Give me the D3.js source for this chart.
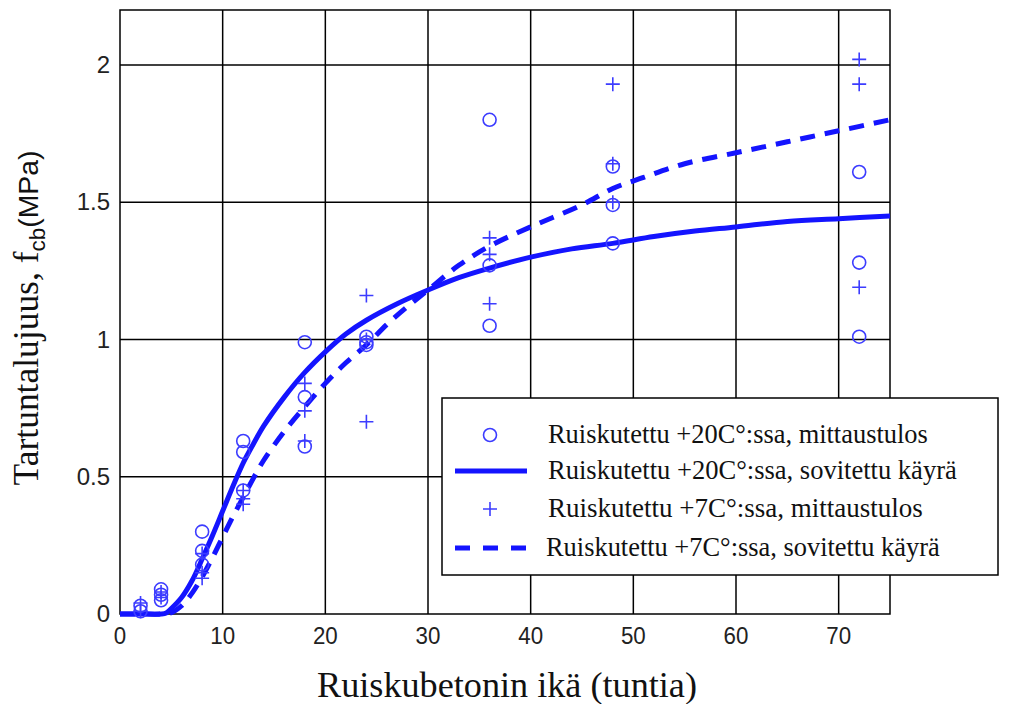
<!DOCTYPE html>
<html><head><meta charset="utf-8">
<script src="https://cdn.jsdelivr.net/npm/d3@7"></script>
<style>body{margin:0;background:#fff}svg{display:block}
.serif{font-family:"Liberation Serif","DejaVu Serif","Times New Roman",Times,serif}
.sans{font-family:"Liberation Sans",Arial,sans-serif}
</style>
</head><body>
<script>
// ---- data ----
const xTicks = [0,10,20,30,40,50,60,70];
const yTicks = [0,0.5,1,1.5,2];
const yTickLabels = ["0","0.5","1","1.5","2"];

const meas20x = [2,2,4,4,4,8,8,8,12,12,12,18,18,18,24,24,24,36,36,36,48,48,48,72,72,72];
const meas20y = [0.01,0.03,0.09,0.07,0.05,0.30,0.23,0.18,0.63,0.59,0.45,0.99,0.79,0.61,1.01,0.99,0.98,1.80,1.27,1.05,1.63,1.49,1.35,1.61,1.28,1.01];

const meas7x = [2,2,4,4,8,8,8,12,12,12,18,18,18,24,24,24,36,36,36,48,48,48,72,72,72];
const meas7y = [0.04,0.01,0.08,0.06,0.22,0.15,0.13,0.45,0.42,0.40,0.84,0.74,0.63,1.16,1.00,0.70,1.37,1.31,1.13,1.93,1.64,1.50,2.02,1.93,1.19];

const fit20x = [0,2,4,4.5,5,6,7,8,9,10,11,12,13,14,16,18,20,22,24,27,30,33,36,40,44,48,52,56,60,65,70,75];
const fit20y = [0,0,0,0.004,0.02,0.06,0.12,0.2,0.285,0.375,0.465,0.55,0.62,0.685,0.79,0.88,0.955,1.02,1.07,1.13,1.18,1.225,1.26,1.30,1.33,1.35,1.375,1.395,1.41,1.43,1.44,1.45];

const fit7x = [0,2,4,5,6,7,8,9,10,11,12,13,14,16,18,20,22,24,26,28,30,33,36,40,45,48,51,55,60,65,70,75];
const fit7y = [0,0,0,0.005,0.03,0.075,0.135,0.205,0.28,0.355,0.425,0.495,0.56,0.665,0.755,0.84,0.915,0.98,1.055,1.12,1.18,1.27,1.34,1.41,1.49,1.55,1.59,1.64,1.68,1.72,1.76,1.80];

const legendLabels = [
  "Ruiskutettu +20C°:ssa, mittaustulos",
  "Ruiskutettu +20C°:ssa, sovitettu käyrä",
  "Ruiskutettu +7C°:ssa, mittaustulos",
  "Ruiskutettu +7C°:ssa, sovitettu käyrä"
];

// ---- chart ----
const W = 1011, H = 704;
const L = 120, R = 890, T = 10, B = 614;
const blue = "#1414ff", mblue = "#3c3cff";

const svg = d3.select("body").append("svg").attr("width", W).attr("height", H);
const x = d3.scaleLinear().domain([0,75]).range([L,R]);
const y = d3.scaleLinear().domain([0,2.2]).range([B,T]);

function fitWidth(sel, target) {
  const n = sel.node();
  const w = n.getComputedTextLength();
  const fs = parseFloat(getComputedStyle(n).fontSize);
  sel.style("font-size", (fs * target / w) + "px");
}

// grid
const g = svg.append("g");
g.selectAll("line.gx").data(xTicks.slice(1)).enter().append("line")
  .attr("x1", d=>x(d)).attr("x2", d=>x(d)).attr("y1", T).attr("y2", B)
  .attr("stroke", "#000").attr("stroke-width", 1.5);
g.selectAll("line.gy").data(yTicks.slice(1)).enter().append("line")
  .attr("y1", d=>y(d)).attr("y2", d=>y(d)).attr("x1", L).attr("x2", R)
  .attr("stroke", "#000").attr("stroke-width", 1.5);
svg.append("rect").attr("x", L).attr("y", T).attr("width", R-L).attr("height", B-T)
  .attr("fill", "none").attr("stroke", "#000").attr("stroke-width", 1.5);

// axes
const xAxis = d3.axisBottom(x).tickValues(xTicks).tickSize(0).tickPadding(13);
const xa = svg.append("g").attr("transform", `translate(0,${B})`).call(xAxis);
xa.select(".domain").remove();
xa.attr("font-family", null).attr("font-size", null);
xa.selectAll("text").attr("class","sans").style("font-size", "24px").attr("fill", "#222");
xa.selectAll(".tick").attr("transform", d=>`translate(${x(d)},0) scale(0.93,1)`);

const yAxis = d3.axisLeft(y).tickValues(yTicks).tickFormat((d,i)=>yTickLabels[i]).tickSize(0).tickPadding(10);
const ya = svg.append("g").attr("transform", `translate(${L},0)`).call(yAxis);
ya.select(".domain").remove();
ya.attr("font-family", null).attr("font-size", null);
ya.selectAll("text").attr("class","sans").style("font-size", "24px").attr("fill", "#222");

// curves
const line = d3.line().x(d=>x(d[0])).y(d=>y(d[1])).curve(d3.curveCatmullRom.alpha(0.5));
svg.append("path").datum(fit20x.map((v,i)=>[v,fit20y[i]])).attr("d", line)
  .attr("fill","none").attr("stroke", blue).attr("stroke-width", 5);
svg.append("path").datum(fit7x.map((v,i)=>[v,fit7y[i]])).attr("d", line)
  .attr("fill","none").attr("stroke", blue).attr("stroke-width", 5).attr("stroke-dasharray", "15,10");

// markers
svg.append("g").selectAll("circle").data(meas20x.map((v,i)=>[v,meas20y[i]])).enter().append("circle")
  .attr("cx", d=>x(d[0])).attr("cy", d=>y(d[1])).attr("r", 6.5)
  .attr("fill","none").attr("stroke", mblue).attr("stroke-width", 1.6);
svg.append("g").selectAll("path").data(meas7x.map((v,i)=>[v,meas7y[i]])).enter().append("path")
  .attr("d", d=>{ const cx = x(d[0]), cy = y(d[1]); return `M${cx-7},${cy}H${cx+7}M${cx},${cy-7}V${cy+7}`; })
  .attr("stroke", mblue).attr("stroke-width", 1.6).attr("fill","none");

// legend
const lg = svg.append("g");
lg.append("rect").attr("x", 442).attr("y", 398).attr("width", 556).attr("height", 177)
  .attr("fill", "#fff").attr("stroke", "#000").attr("stroke-width", 1.5);
const rows = [435, 471, 509, 548];
lg.append("circle").attr("cx", 490).attr("cy", rows[0]).attr("r", 6.5)
  .attr("fill","none").attr("stroke", mblue).attr("stroke-width", 1.6);
lg.append("line").attr("x1", 455).attr("x2", 527).attr("y1", rows[1]).attr("y2", rows[1])
  .attr("stroke", blue).attr("stroke-width", 5);
lg.append("path").attr("d", `M483,${rows[2]}H497M490,${rows[2]-7}V${rows[2]+7}`)
  .attr("stroke", mblue).attr("stroke-width", 1.6);
lg.append("line").attr("x1", 455).attr("x2", 527).attr("y1", rows[3]).attr("y2", rows[3])
  .attr("stroke", blue).attr("stroke-width", 5).attr("stroke-dasharray", "15,13");
const legTargets = [380, 409, 375, 394];
lg.selectAll("text").data(legendLabels).enter().append("text")
  .attr("class", "serif")
  .attr("x", (d,i)=> i===3 ? 546 : 548).attr("y", (d,i)=>rows[i]+8)
  .style("font-size", "22px")
  .attr("fill", "#111").text(d=>d)
  .each(function(d,i){ fitWidth(d3.select(this), legTargets[i]); });

// axis titles
const xt = svg.append("text").attr("class","serif").attr("x", 507).attr("y", 697).attr("text-anchor","middle")
  .style("font-size", "30px").attr("fill", "#111").text("Ruiskubetonin ikä (tuntia)");
fitWidth(xt, 380);
const yt = svg.append("text").attr("class","serif").attr("transform", "translate(38,318) rotate(-90)").attr("text-anchor","middle")
  .style("font-size", "30px").attr("fill", "#111");
yt.append("tspan").text("Tartuntalujuus, f");
yt.append("tspan").attr("class","sans").attr("dy", 7).style("font-size", "19px").text("cb");
yt.append("tspan").attr("class","sans").attr("dy", -7).style("font-size", "24px").text("(MPa)");
{
  const w = yt.node().getComputedTextLength();
  const k = 335 / w;
  yt.style("font-size", (30*k)+"px");
  yt.selectAll("tspan").filter((d,i)=>i>0).each(function(){
    const s = d3.select(this); s.style("font-size", (parseFloat(s.style("font-size"))*k)+"px");
  });
}
</script>
</body></html>
